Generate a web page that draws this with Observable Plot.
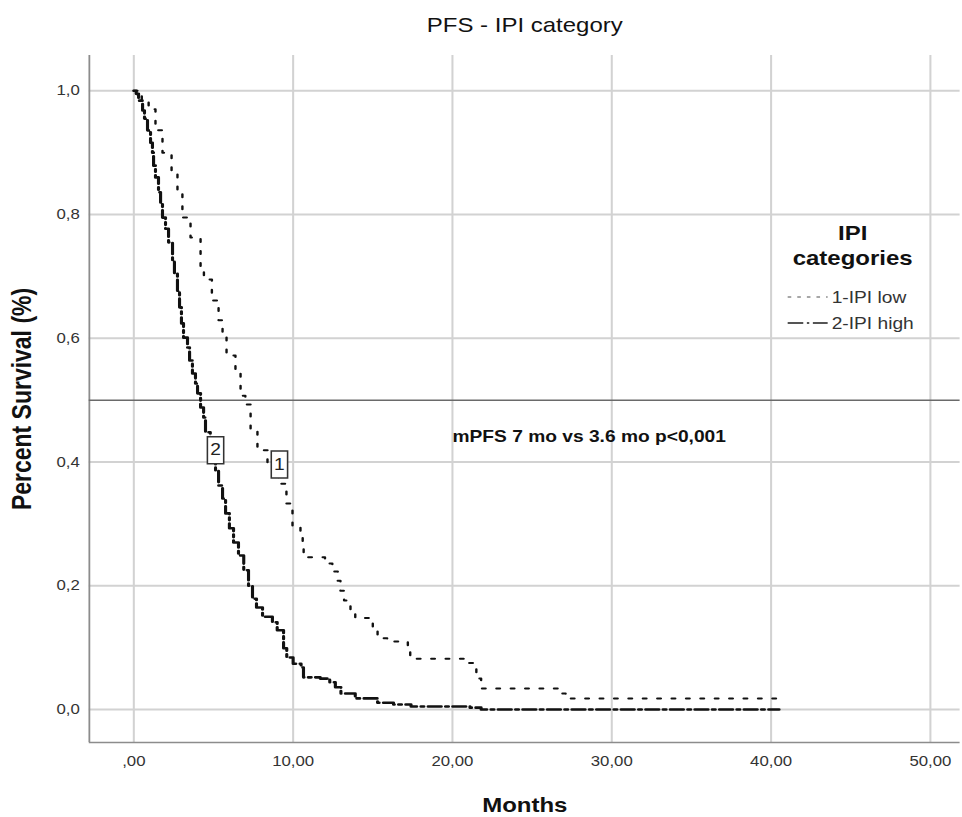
<!DOCTYPE html>
<html><head><meta charset="utf-8">
<script src="https://cdn.jsdelivr.net/npm/d3@7"></script>
<script src="https://cdn.jsdelivr.net/npm/@observablehq/plot@0.6"></script>
<style>body{margin:0;background:#fff} #chart svg{display:block}</style>
</head><body><div id="chart"></div>
<script>
// ---- data ----
const chartTitle = "PFS - IPI category";
const xLabel = "Months";
const yLabel = "Percent Survival (%)";
const legendTitle = ["IPI", "categories"];
const seriesNames = ["1-IPI low", "2-IPI high"];
const annotation = "mPFS 7 mo vs 3.6 mo p<0,001";
const annotationAt = [20, 0.44];

const lowTime = [0,0.5,0.93,1.36,1.8,2.37,2.74,3.05,3.56,4.19,4.4,4.9,5.32,5.57,5.82,6.38,6.7,7.0,7.33,7.76,8.39,9.08,9.58,9.96,10.46,10.6,10.66,12.0,12.46,12.8,12.97,13.2,13.6,13.9,15.0,15.3,15.9,17.2,17.35,20.7,21.3,21.5,21.8,26.8,27.1,40.5];
const lowSurv = [1.0,0.985,0.970,0.936,0.90,0.868,0.834,0.795,0.763,0.714,0.695,0.661,0.629,0.609,0.572,0.543,0.507,0.493,0.454,0.419,0.392,0.365,0.333,0.297,0.284,0.265,0.246,0.236,0.223,0.208,0.192,0.176,0.162,0.148,0.131,0.115,0.110,0.099,0.082,0.075,0.066,0.050,0.034,0.026,0.018,0.018];

const highTime = [0,0.15,0.3,0.55,0.67,0.86,1.05,1.17,1.24,1.36,1.55,1.68,1.8,1.99,2.18,2.43,2.55,2.74,2.87,2.99,3.12,3.37,3.5,3.68,3.87,4.0,4.19,4.38,4.5,4.8,5.13,5.32,5.57,5.76,6.0,6.26,6.57,6.9,7.2,7.45,7.7,8.08,8.7,9.0,9.4,9.6,10.0,10.5,10.65,11.7,12.3,12.65,13.0,13.9,15.3,16.3,17.4,21.1,21.8,40.5];
const highSurv = [1.0,0.995,0.984,0.968,0.955,0.936,0.916,0.90,0.879,0.86,0.836,0.818,0.795,0.777,0.755,0.726,0.705,0.677,0.65,0.624,0.601,0.585,0.564,0.543,0.527,0.511,0.488,0.472,0.448,0.42,0.386,0.362,0.341,0.317,0.293,0.27,0.249,0.225,0.20,0.179,0.165,0.150,0.141,0.128,0.099,0.084,0.074,0.068,0.052,0.050,0.044,0.036,0.026,0.018,0.011,0.008,0.005,0.003,0.0,0.0];

const curveLabelText = ["1", "2"];
const curveLabelX = [9.14, 5.13];
const curveLabelY = [0.396, 0.419];

const xTicks = [0, 10, 20, 30, 40, 50];
const xTickLabels = [",00", "10,00", "20,00", "30,00", "40,00", "50,00"];
const yTicks = [0, 0.2, 0.4, 0.6, 0.8, 1.0];
const yTickLabels = ["0,0", "0,2", "0,4", "0,6", "0,8", "1,0"];
const refLine = [0.5];

// ---- build tables ----
const low = lowTime.map((t, i) => ({t, s: lowSurv[i]}));
const high = highTime.map((t, i) => ({t, s: highSurv[i]}));
const curveLabels = curveLabelText.map((text, i) => ({text, x: curveLabelX[i], y: curveLabelY[i]}));

// The reference image is horizontally stretched (~1.2x); draw narrower and stretch the SVG.
const OUT_W = 962, H = 817, S = 1.2;
const W = Math.round(OUT_W / S);
const FONT = "'Liberation Sans', Arial, Helvetica, sans-serif";

const boxSymbol = {draw(ctx) { ctx.rect(-6.8, -13.5, 13.6, 27); }};

function legend(index, scales, values, dims) {
  const g = d3.create("svg:g").attr("font-family", FONT);
  const cx = 853 / S;
  g.append("text").attr("x", cx).attr("y", 240).attr("text-anchor", "middle")
    .attr("font-size", 20).attr("font-weight", "bold").attr("fill", "#111").text(legendTitle[0]);
  g.append("text").attr("x", cx).attr("y", 265).attr("text-anchor", "middle")
    .attr("font-size", 20).attr("font-weight", "bold").attr("fill", "#111").text(legendTitle[1]);
  const items = [
    {name: seriesNames[0], y: 303, dash: "3,5", w: 1.6, c: "#8a8a8a"},
    {name: seriesNames[1], y: 329, dash: "13,3,2,3", w: 2, c: "#555"}
  ];
  for (const it of items) {
    g.append("line").attr("x1", 788 / S).attr("x2", 828 / S).attr("y1", it.y - 6).attr("y2", it.y - 6)
      .attr("stroke", it.c).attr("stroke-width", it.w).attr("stroke-dasharray", it.dash);
    g.append("text").attr("x", 832 / S).attr("y", it.y).attr("text-anchor", "start")
      .attr("font-size", 16).attr("fill", "#333").text(it.name);
  }
  return g.node();
}

const chart = Plot.plot({
  width: W, height: H,
  marginLeft: 74, marginRight: 2, marginTop: 55, marginBottom: 75,
  x: {domain: [-2.79, 51.87], axis: null},
  y: {domain: [-0.0533, 1.057], axis: null},
  style: {fontFamily: FONT, fontSize: "14px", color: "#222", background: "#fff"},
  marks: [
    Plot.gridX(xTicks, {stroke: "#d2d2d2", strokeOpacity: 1, strokeWidth: 1.7}),
    Plot.gridY(yTicks, {stroke: "#d2d2d2", strokeOpacity: 1, strokeWidth: 1.8}),
    Plot.ruleX([-2.79], {stroke: "#8c8c8c", strokeWidth: 1.5}),
    Plot.ruleY([-0.0533], {stroke: "#8c8c8c", strokeWidth: 1.6}),
    Plot.ruleY(refLine, {stroke: "#6a6a6a", strokeWidth: 1.5}),
    Plot.axisX(xTicks, {tickSize: 0, tickPadding: 14, tickFormat: (d, i) => xTickLabels[i], fill: "#333", fontSize: 14}),
    Plot.axisY(yTicks, {tickSize: 0, tickPadding: 8, tickFormat: (d, i) => yTickLabels[i], fill: "#333", fontSize: 14}),
    Plot.line(low, {x: "t", y: "s", curve: "step-after", stroke: "#111", strokeWidth: 2, strokeDasharray: "3,9"}),
    Plot.line(high, {x: "t", y: "s", curve: "step-after", stroke: "#111", strokeWidth: 2.6, strokeDasharray: "11,3.5,2.5,3.5"}),
    Plot.dot(curveLabels, {x: "x", y: "y", symbol: boxSymbol, r: 5, fill: "#fff", stroke: "#333", strokeWidth: 1.3}),
    Plot.text(curveLabels, {x: "x", y: "y", text: "text", fontSize: 16, fill: "#222"}),
    Plot.text([annotation], {x: annotationAt[0], y: annotationAt[1], textAnchor: "start", fontSize: 16, fontWeight: "bold", fill: "#111"}),
    Plot.text([chartTitle], {frameAnchor: "top", lineAnchor: "middle", dy: -30, fontSize: 20, fill: "#111"}),
    Plot.text([xLabel], {frameAnchor: "bottom", lineAnchor: "middle", dy: 63, fontSize: 20, fontWeight: "bold", fill: "#111"}),
    Plot.text([yLabel], {frameAnchor: "left", textAnchor: "middle", lineAnchor: "middle", dx: -56, rotate: -90, fontSize: 23, fontWeight: "bold", fill: "#111"}),
    legend
  ]
});
chart.setAttribute("width", OUT_W);
chart.setAttribute("viewBox", `0 0 ${W} ${H}`);
chart.setAttribute("preserveAspectRatio", "none");
chart.style.width = OUT_W + "px";
chart.style.height = H + "px";
chart.style.maxWidth = "none";
document.getElementById("chart").append(chart);
</script>
</body></html>
